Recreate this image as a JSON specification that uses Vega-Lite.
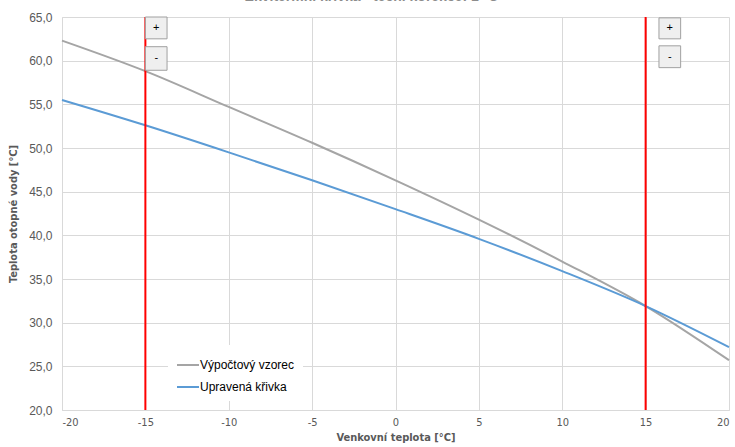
{
  "$schema": "https://vega.github.io/schema/vega-lite/v6.json",
  "width": 667,
  "height": 393,
  "autosize": "none",
  "padding": {"left": 62, "top": 17, "right": 6, "bottom": 37},
  "background": "white",
  "title": {"text": "Ekvitermní křivka - tech. korekce: 1 °C", "fontSize": 14, "fontWeight": "bold", "color": "#8c8c8c", "font": "Liberation Sans", "offset": 7, "dx": -24},
  "config": {
    "locale": {"number": {"decimal": ",", "thousands": " ", "grouping": [3], "currency": ["", " Kč"], "minus": "-"}},
    "view": {"stroke": null},
    "font": "Liberation Sans",
    "axis": {"gridColor": "#d9d9d9", "domainColor": "#d9d9d9", "ticks": false, "labelColor": "#595959", "titleColor": "#595959", "labelFontSize": 12, "titleFontSize": 12, "titleFontWeight": "bold"}
  },
  "datasets": {
    "redlines": [{"x": -15}, {"x": 15}],
    "curves": [
      {"serie": "Výpočtový vzorec", "x": -20, "y": 62.3},
      {"serie": "Výpočtový vzorec", "x": -15, "y": 58.8},
      {"serie": "Výpočtový vzorec", "x": -10, "y": 54.7},
      {"serie": "Výpočtový vzorec", "x": -5, "y": 50.6},
      {"serie": "Výpočtový vzorec", "x": 0, "y": 46.3},
      {"serie": "Výpočtový vzorec", "x": 5, "y": 41.8},
      {"serie": "Výpočtový vzorec", "x": 10, "y": 37.0},
      {"serie": "Výpočtový vzorec", "x": 15, "y": 31.9},
      {"serie": "Výpočtový vzorec", "x": 20, "y": 25.7},
      {"serie": "Upravená křivka", "x": -20, "y": 55.5},
      {"serie": "Upravená křivka", "x": -15, "y": 52.6},
      {"serie": "Upravená křivka", "x": -10, "y": 49.5},
      {"serie": "Upravená křivka", "x": -5, "y": 46.3},
      {"serie": "Upravená křivka", "x": 0, "y": 43.0},
      {"serie": "Upravená křivka", "x": 5, "y": 39.6},
      {"serie": "Upravená křivka", "x": 10, "y": 35.9},
      {"serie": "Upravená křivka", "x": 15, "y": 31.9},
      {"serie": "Upravená křivka", "x": 20, "y": 27.2}
    ],
    "buttons": [
      {"x": -15, "x2": -13.7, "xc": -14.35, "y": 62.5, "y2": 65, "yc": 63.75, "label": "+"},
      {"x": -15, "x2": -13.7, "xc": -14.35, "y": 58.9, "y2": 61.6, "yc": 60.25, "label": "-"},
      {"x": 15.8, "x2": 17.1, "xc": 16.45, "y": 62.5, "y2": 64.9, "yc": 63.7, "label": "+"},
      {"x": 15.8, "x2": 17.1, "xc": 16.45, "y": 59.2, "y2": 61.7, "yc": 60.45, "label": "-"}
    ]
  },
  "layer": [
    {
      "data": {"name": "curves"},
      "mark": {"type": "line", "strokeWidth": 2, "interpolate": "monotone"},
      "encoding": {
        "x": {"field": "x", "type": "quantitative", "title": "Venkovní teplota [°C]", "scale": {"domain": [-20, 20], "nice": false},
          "axis": {"values": [-20, -15, -10, -5, 0, 5, 10, 15, 20], "labelFont": "DejaVu Sans Condensed, Roboto Condensed, Roboto", "titleFont": "DejaVu Sans Condensed, Roboto Condensed, Roboto", "labelFontSize": 11, "titleFontSize": 11, "labelPadding": 6, "titlePadding": 4}},
        "y": {"field": "y", "type": "quantitative", "title": "Teplota otopné vody [°C]", "scale": {"domain": [20, 65], "nice": false, "zero": false},
          "axis": {"values": [20, 25, 30, 35, 40, 45, 50, 55, 60, 65], "format": ".1f", "labelPadding": 10, "titlePadding": 10, "titleFont": "DejaVu Sans Condensed, Roboto Condensed, Roboto", "titleFontSize": 11}},
        "color": {
          "field": "serie", "type": "nominal",
          "scale": {"domain": ["Výpočtový vzorec", "Upravená křivka"], "range": ["#a5a5a5", "#5b9bd5"]},
          "legend": {"title": null, "orient": "none", "legendX": 106, "legendY": 328, "symbolType": "stroke", "symbolSize": 484, "symbolStrokeWidth": 2, "labelFontSize": 12, "labelColor": "#000000", "labelFont": "Liberation Sans", "fillColor": "white", "padding": 8, "rowPadding": 4, "labelOffset": 0}
        }
      }
    },
    {
      "data": {"name": "redlines"},
      "mark": {"type": "rule", "color": "#ff0000", "strokeWidth": 2},
      "encoding": {
        "x": {"field": "x", "type": "quantitative", "title": "Venkovní teplota [°C]", "scale": {"domain": [-20, 20], "nice": false}}
      }
    },
    {
      "data": {"name": "buttons"},
      "mark": {"type": "rect", "fill": "#efefef", "stroke": "#a0a0a0", "strokeWidth": 1, "clip": false},
      "encoding": {
        "x": {"field": "x", "type": "quantitative", "title": "Venkovní teplota [°C]", "scale": {"domain": [-20, 20], "nice": false}},
        "x2": {"field": "x2"},
        "y": {"field": "y", "type": "quantitative", "title": "Teplota otopné vody [°C]", "scale": {"domain": [20, 65], "nice": false, "zero": false}},
        "y2": {"field": "y2"}
      }
    },
    {
      "data": {"name": "buttons"},
      "mark": {"type": "text", "fontSize": 11, "color": "#000000", "font": "Liberation Sans"},
      "encoding": {
        "x": {"field": "xc", "type": "quantitative", "title": "Venkovní teplota [°C]", "scale": {"domain": [-20, 20], "nice": false}},
        "y": {"field": "yc", "type": "quantitative", "title": "Teplota otopné vody [°C]", "scale": {"domain": [20, 65], "nice": false, "zero": false}},
        "text": {"field": "label"}
      }
    }
  ]
}
